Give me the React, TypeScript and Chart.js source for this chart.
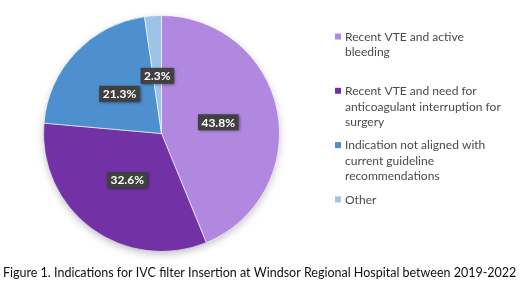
import React, { useEffect, useRef } from "react";
import { Chart, registerables } from "chart.js";

Chart.register(...registerables);

const categories: string[][] = [
  ["Recent VTE and active", "bleeding"],
  ["Recent VTE and need for", "anticoagulant interruption for", "surgery"],
  ["Indication not aligned with", "current guideline", "recommendations"],
  ["Other"],
];
const percentages: number[] = [43.8, 32.6, 21.3, 2.3];
const sliceColors: string[] = ["#B088E0", "#7232A6", "#4E90CF", "#9DC3E6"];
const caption =
  "Figure 1. Indications for IVC filter Insertion at Windsor Regional Hospital between 2019-2022";

const FONT = "Lato, 'Open Sans', sans-serif";

const pieShadow = {
  id: "pieShadow",
  beforeDatasetsDraw(chart: any) {
    const meta = chart.getDatasetMeta(0);
    const arc = meta.data[0];
    if (!arc) return;
    const { x, y, outerRadius } = arc.getProps(["x", "y", "outerRadius"], true);
    const ctx = chart.ctx;
    ctx.save();
    ctx.shadowColor = "rgba(0,0,0,0.28)";
    ctx.shadowBlur = 9;
    ctx.shadowOffsetX = 0;
    ctx.shadowOffsetY = 3;
    ctx.fillStyle = "#ffffff";
    ctx.beginPath();
    ctx.arc(x, y, outerRadius - 1, 0, Math.PI * 2);
    ctx.fill();
    ctx.restore();
  },
};

const pctLabels = {
  id: "pctLabels",
  afterDatasetsDraw(chart: any) {
    const ctx = chart.ctx;
    const meta = chart.getDatasetMeta(0);
    const values = chart.data.datasets[0].data as number[];
    meta.data.forEach((arc: any, i: number) => {
      const { x, y, startAngle, endAngle, outerRadius } = arc.getProps(
        ["x", "y", "startAngle", "endAngle", "outerRadius"],
        true
      );
      const mid = (startAngle + endAngle) / 2;
      const r = outerRadius * 0.49;
      const px = x + Math.cos(mid) * r;
      const py = y + Math.sin(mid) * r;
      const text = values[i].toFixed(1) + "%";
      ctx.save();
      ctx.font = `bold 12px ${FONT}`;
      const w = ctx.measureText(text).width + 7;
      const h = 16;
      ctx.shadowColor = "rgba(0,0,0,0.5)";
      ctx.shadowBlur = 3;
      ctx.shadowOffsetX = 1;
      ctx.shadowOffsetY = 1;
      ctx.fillStyle = "#404040";
      ctx.fillRect(px - w / 2, py - h / 2, w, h);
      ctx.shadowColor = "transparent";
      ctx.fillStyle = "#ffffff";
      ctx.textAlign = "center";
      ctx.textBaseline = "middle";
      ctx.fillText(text, px, py + 0.5);
      ctx.restore();
    });
  },
};

const sideLegend = {
  id: "sideLegend",
  afterDraw(chart: any) {
    const ctx = chart.ctx;
    const labels = chart.data.labels as string[][];
    const colors = chart.data.datasets[0].backgroundColor as string[];
    const left = 335;
    const top = 36.5;
    const spacing = 54.3;
    const lineH = 15.5;
    ctx.save();
    // fit font so the widest reference line spans ~156px
    ctx.font = `13px ${FONT}`;
    const ref = ctx.measureText("anticoagulant interruption for").width;
    const size = (13 * 156) / ref;
    ctx.font = `${size}px ${FONT}`;
    ctx.textBaseline = "middle";
    ctx.textAlign = "left";
    labels.forEach((lines, i) => {
      const y0 = top + i * spacing;
      ctx.fillStyle = colors[i];
      ctx.fillRect(left, y0 - 3, 6, 6);
      ctx.fillStyle = "#4a4a4a";
      lines.forEach((ln, j) => {
        ctx.fillText(ln, left + 10, y0 + j * lineH + 0.5);
      });
    });
    // caption
    ctx.font = `13px ${FONT}`;
    const cw = ctx.measureText(caption).width;
    const csize = (13 * 514) / cw;
    ctx.font = `${csize}px ${FONT}`;
    ctx.fillStyle = "#111111";
    ctx.fillText(caption, 3, 273);
    ctx.restore();
  },
};

export default function App() {
  const canvasRef = useRef<HTMLCanvasElement | null>(null);

  useEffect(() => {
    document.body.style.margin = "0";
    document.body.style.background = "#ffffff";
    const canvas = canvasRef.current;
    if (!canvas) return;
    const chart = new Chart(canvas, {
      type: "pie",
      data: {
        labels: categories as any,
        datasets: [
          {
            data: percentages,
            backgroundColor: sliceColors,
            borderColor: "rgba(255,255,255,0.6)",
            borderWidth: 1,
            hoverOffset: 0,
          },
        ],
      },
      options: {
        responsive: false,
        animation: false,
        events: [],
        layout: { padding: { left: 43, top: 15, right: 240, bottom: 33 } },
        plugins: {
          legend: { display: false },
          tooltip: { enabled: false },
          title: { display: false },
        },
      },
      plugins: [pieShadow, pctLabels, sideLegend],
    });
    return () => chart.destroy();
  }, []);

  return (
    <div style={{ position: "absolute", left: 0, top: 0, width: 520, height: 285, background: "#fff" }}>
      <canvas ref={canvasRef} width={520} height={285} style={{ display: "block" }} />
    </div>
  );
}
